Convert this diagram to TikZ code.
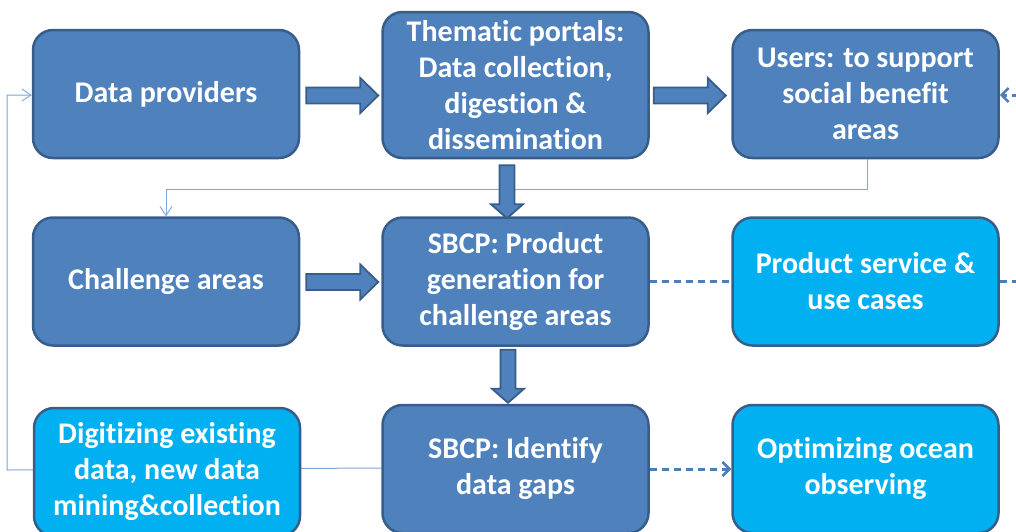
\documentclass[tikz,border=0pt]{standalone}
\usepackage{fontspec}
\setmainfont{Carlito}[Ligatures=NoCommon]
\usetikzlibrary{arrows.meta,calc,backgrounds}

\definecolor{boxblue}{HTML}{4F81BD}
\definecolor{boxcyan}{HTML}{00B0F0}
\definecolor{boxedge}{HTML}{385D8A}
\definecolor{thinline}{HTML}{7EA6D8}
\definecolor{dashblue}{HTML}{4A7EBB}

\tikzset{
  card/.style={rounded corners=20pt, draw=boxedge, line width=2.5pt,
    minimum width=266pt, minimum height=128pt, inner sep=2pt,
    text=white, align=center,
    font=\bfseries\fontsize{30}{36}\selectfont},
  darkcard/.style={card, fill=boxblue},
  lightcard/.style={card, fill=boxcyan},
  blockpart/.style={fill=boxblue, draw=boxedge, line width=1.8pt, line join=miter},
  rblock/.pic={\path[blockpart] (0,-8) -- (54,-8) -- (54,-17.5) -- (72,0)
      -- (54,17.5) -- (54,8) -- (0,8) -- cycle;},
  dblock/.pic={\path[blockpart] (-7.5,0) -- (7.5,0) -- (7.5,39) -- (16,39)
      -- (0,53) -- (-16,39) -- (-7.5,39) -- cycle;},
  feedback/.style={draw=thinline, line width=1pt},
  barb/.style={-{Straight Barb[length=9pt,width=12pt,line width=0.9pt]}},
  dashlink/.style={draw=dashblue, line width=3pt, dash pattern=on 7pt off 5pt},
  dashtip/.style={-{Straight Barb[length=7pt,width=14pt,line width=2.6pt]}},
}

\begin{document}
\begin{tikzpicture}[x=1pt,y=-1pt]
  \useasboundingbox (0,0) rectangle (1016,531);
  \clip (0,0) rectangle (1016,531);

  % top row
  \node[darkcard] (providers) at (166,94) {Data providers};
  \node[darkcard, minimum height=146pt] (portals) at (515.5,85)
    {Thematic portals:\\Data collection,\\digestion \&\\dissemination};
  \node[darkcard] (users) at (865.5,94) {Users: to support\\social benefit\\areas};

  % middle row
  \node[darkcard] (challenge) at (166,281.5) {Challenge areas};
  \node[darkcard] (product) at (515.5,281.5)
    {SBCP: Product\\generation for\\challenge areas};
  \node[lightcard] (service) at (865.5,281.5) {Product service \&\\use cases};

  % bottom row
  \node[lightcard] (digit) at (167,472)
    {Digitizing existing\\data, new data\\mining\&collection};
  \node[darkcard] (identify) at (515.5,469) {SBCP: Identify\\data gaps};
  \node[lightcard] (optimize) at (865.5,469) {Optimizing ocean\\observing};

  % thin feedback lines, kept behind the boxes
  \begin{scope}[on background layer]
    \draw[feedback, barb] ([yshift=1pt]identify.west) -- (7,470)
      |- ([yshift=-1pt]providers.west);
  \end{scope}
  \draw[feedback, barb] ([xshift=1.5pt]users.south) -- ++(0,30)
    -| (challenge.north);

  % block arrows
  \pic at ($(providers.east)+(6,1.5)$) {rblock};
  \pic at ($(users.west)+(-77.5,1.5)$) {rblock};
  \pic at ($(challenge.east)+(6,0.5)$) {rblock};
  \pic at ($(portals.south)+(-8.5,6)$) {dblock};
  \pic at ($(product.south)+(-7.5,3)$) {dblock};

  % dashed links
  \draw[dashlink] (product.east) -- (service.west);
  \draw[dashlink, dashtip] (service.east) -- (1030,281.5)
    |- ([yshift=-1pt]users.east);
  \draw[dashlink, dashtip] (identify.east) -- (optimize.west);
\end{tikzpicture}
\end{document}
